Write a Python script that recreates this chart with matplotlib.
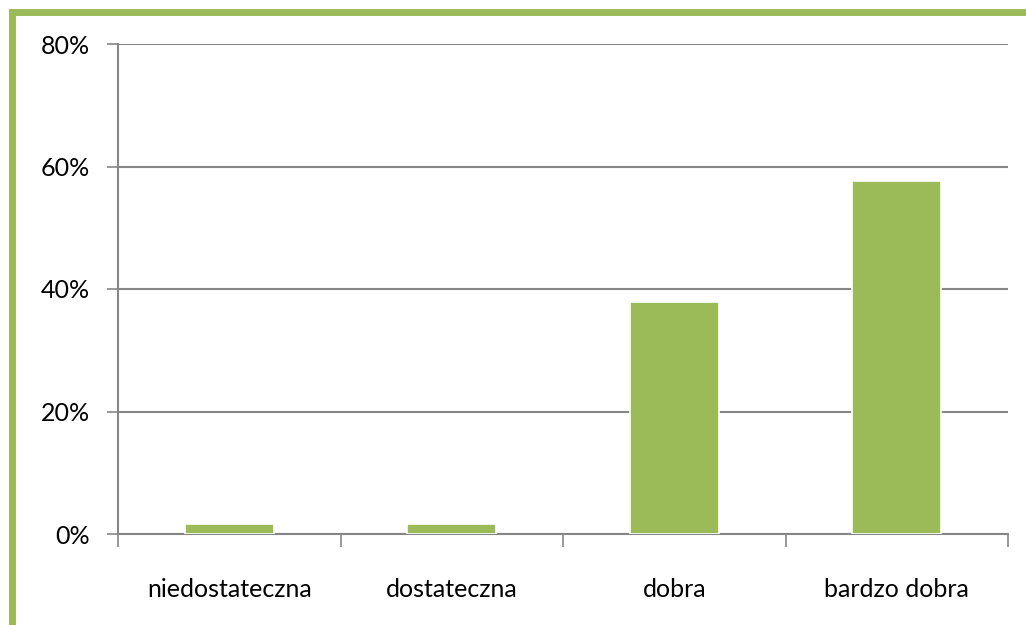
import matplotlib
matplotlib.use("Agg")
import matplotlib.pyplot as plt
from matplotlib.patches import Rectangle
import matplotlib.patheffects as pe
import numpy as np

categories = ["niedostateczna", "dostateczna", "dobra", "bardzo dobra"]
values = [1.6, 1.6, 37.9, 57.6]
yticks = [0, 20, 40, 60, 80]
ytick_labels = ["0%", "20%", "40%", "60%", "80%"]

green = "#9BBB59"
grid_c = "#868686"

plt.rcParams['font.family'] = ['Lato', 'DejaVu Sans']

W, H = 1026, 625
fig = plt.figure(figsize=(W/100, H/100), dpi=100)
fig.patch.set_facecolor("white")

# green frame (top & left visible)
fig.patches.append(Rectangle((11.5/W, -0.2), 1.5, (1 - 11.5/H) + 0.2, transform=fig.transFigure,
                             fill=False, edgecolor=green, linewidth=5, zorder=0))

ax = fig.add_axes([118/W, 1 - 534/H, (1008-118)/W, (534-44)/H])
x = np.arange(len(categories))
bars = ax.bar(x, values, width=0.4, color=green, edgecolor="white", linewidth=1.2, zorder=3)
for b in bars:
    b.set_path_effects([pe.SimplePatchShadow(offset=(0, 0), shadow_rgbFace="#bbbbbb", alpha=0.5), pe.Normal()])

ax.set_xlim(-0.5, len(categories) - 0.5)
ax.set_ylim(0, 80)
ax.set_yticks(yticks)
ax.set_yticklabels(ytick_labels, fontsize=18)
ax.yaxis.grid(True, color=grid_c, linewidth=1.5, zorder=0)
ax.set_axisbelow(True)

ax.set_xticks(np.arange(-0.5, len(categories)), minor=False)
ax.set_xticklabels([])
ax.set_xticks(x, minor=True)
ax.set_xticklabels(categories, minor=True, fontsize=18)
ax.tick_params(axis='x', which='major', length=9, width=1.2, color=grid_c, direction='out')
ax.tick_params(axis='x', which='minor', length=0, pad=32)
ax.tick_params(axis='y', length=8, width=1.2, color=grid_c, direction='out', pad=12)

for s in ["top", "right"]:
    ax.spines[s].set_visible(False)
ax.spines["left"].set_color(grid_c)
ax.spines["left"].set_linewidth(1.5)
ax.spines["bottom"].set_color(grid_c)
ax.spines["bottom"].set_linewidth(1.5)

fig.savefig("out.png", dpi=100)
